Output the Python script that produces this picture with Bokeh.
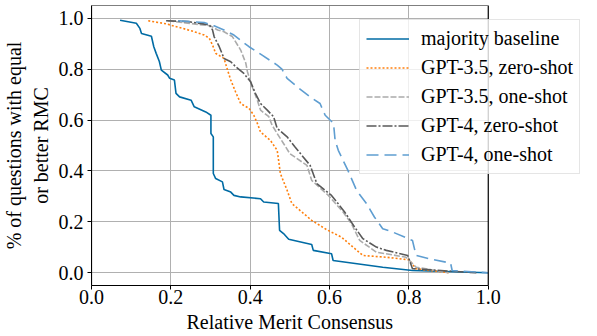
from bokeh.plotting import figure
from bokeh.models import Legend, LegendItem, FixedTicker, Range1d, BoxAnnotation, Title
from bokeh.embed import file_html
from bokeh.resources import INLINE

# ---- data ----
base_x = [0.072, 0.113, 0.122, 0.126, 0.151, 0.157, 0.163, 0.171, 0.176, 0.192, 0.197, 0.209, 0.213, 0.222,
          0.251, 0.259, 0.288, 0.301, 0.301, 0.307, 0.307, 0.313, 0.330, 0.334, 0.351, 0.359, 0.376, 0.426,
          0.434, 0.471, 0.474, 0.484, 0.497, 0.555, 0.559, 0.605, 0.609, 0.734, 0.809, 1.0]
base_y = [0.992, 0.980, 0.960, 0.940, 0.929, 0.888, 0.862, 0.830, 0.796, 0.777, 0.764, 0.757, 0.705, 0.691,
          0.678, 0.652, 0.632, 0.619, 0.547, 0.534, 0.390, 0.370, 0.357, 0.327, 0.317, 0.304, 0.298, 0.291,
          0.278, 0.272, 0.167, 0.154, 0.132, 0.111, 0.088, 0.075, 0.048, 0.022, 0.009, 0.0]

g35z_x = [0.143, 0.188, 0.218, 0.251, 0.284, 0.297, 0.305, 0.313, 0.334, 0.343, 0.351, 0.363, 0.376, 0.397,
          0.409, 0.418, 0.426, 0.451, 0.468, 0.470, 0.476, 0.493, 0.505, 0.555, 0.593, 0.630, 0.659, 0.684,
          0.743, 0.800, 0.818, 0.900]
g35z_y = [0.990, 0.978, 0.965, 0.951, 0.934, 0.921, 0.895, 0.862, 0.842, 0.796, 0.757, 0.711, 0.665, 0.646,
          0.619, 0.587, 0.553, 0.520, 0.481, 0.460, 0.390, 0.324, 0.272, 0.206, 0.169, 0.140, 0.101, 0.068,
          0.061, 0.051, 0.016, 0.0]

g35o_x = [0.193, 0.300, 0.318, 0.334, 0.355, 0.376, 0.389, 0.393, 0.405, 0.418, 0.426, 0.447, 0.455, 0.468,
          0.484, 0.500, 0.543, 0.555, 0.597, 0.634, 0.655, 0.676, 0.718, 0.793, 0.818, 0.900]
g35o_y = [0.990, 0.970, 0.954, 0.947, 0.928, 0.875, 0.823, 0.790, 0.731, 0.678, 0.639, 0.613, 0.580, 0.547,
          0.508, 0.468, 0.422, 0.363, 0.304, 0.239, 0.193, 0.127, 0.081, 0.061, 0.022, 0.0]

g4z_x = [0.188, 0.243, 0.297, 0.305, 0.309, 0.322, 0.334, 0.351, 0.363, 0.384, 0.401, 0.413, 0.426, 0.443,
         0.459, 0.468, 0.493, 0.513, 0.551, 0.568, 0.605, 0.638, 0.663, 0.684, 0.718, 0.743, 0.797, 0.809, 0.970]
g4z_y = [0.990, 0.987, 0.974, 0.954, 0.928, 0.888, 0.842, 0.829, 0.810, 0.783, 0.750, 0.705, 0.665, 0.639,
         0.613, 0.567, 0.534, 0.494, 0.422, 0.350, 0.304, 0.239, 0.180, 0.134, 0.101, 0.088, 0.068, 0.016, 0.0]

g4o_x = [0.218, 0.284, 0.309, 0.334, 0.359, 0.397, 0.430, 0.468, 0.480, 0.493, 0.518, 0.551, 0.576, 0.589,
         0.610, 0.614, 0.622, 0.646, 0.668, 0.693, 0.713, 0.734, 0.759, 0.809, 0.818, 0.851, 0.905, 0.909, 1.0]
g4o_y = [0.990, 0.983, 0.970, 0.954, 0.934, 0.888, 0.855, 0.816, 0.800, 0.764, 0.731, 0.691, 0.665, 0.619,
         0.587, 0.520, 0.481, 0.403, 0.324, 0.272, 0.219, 0.173, 0.160, 0.127, 0.068, 0.055, 0.038, 0.009, 0.0]

tick_values = [0.0, 0.2, 0.4, 0.6, 0.8, 1.0]
tick_labels = ["0.0", "0.2", "0.4", "0.6", "0.8", "1.0"]
series_names = ["majority baseline", "GPT-3.5, zero-shot", "GPT-3.5, one-shot",
                "GPT-4, zero-shot", "GPT-4, one-shot"]
x_label = "Relative Merit Consensus"
y_label = "% of questions with equal\nor better RMC"

FONT = "Liberation Serif"
X_MIN, X_MAX = 0.0, 1.0
# the frame is widened to the right so the legend can hang past the plot box
X_VIEW_END = 1.235

p = figure(width=581, height=334, output_backend="svg", toolbar_location=None,
           x_range=Range1d(X_MIN, X_VIEW_END), y_range=Range1d(-0.05, 1.05),
           min_border_left=85, min_border_right=0, min_border_top=5, min_border_bottom=0)
p.background_fill_color = "white"
p.border_fill_color = "white"
p.outline_line_color = None

styles = [
    dict(color="#006BA4", dash="solid"),
    dict(color="#FF800E", dash="2 2"),
    dict(color="#ABABAB", dash="6 2"),
    dict(color="#595959", dash="10 2 2 2"),
    dict(color="#5F9ED1", dash="12 6"),
]
data = [(base_x, base_y), (g35z_x, g35z_y), (g35o_x, g35o_y), (g4z_x, g4z_y), (g4o_x, g4o_y)]

items = []
for (xs, ys), st, name in zip(data, styles, series_names):
    r = p.line(xs, ys, line_color=st["color"], line_width=1.6, line_dash=st["dash"])
    items.append(LegendItem(label=name, renderers=[r]))

for ax in (p.xaxis[0], p.yaxis[0]):
    ax.ticker = FixedTicker(ticks=tick_values)
    ax.major_label_overrides = {v: l for v, l in zip(tick_values, tick_labels)}
    ax.minor_tick_line_color = None
    ax.major_tick_in = 0
    ax.major_tick_out = 4
    ax.major_tick_line_color = "black"
    ax.axis_line_color = "black"
    ax.major_label_text_font = FONT
    ax.major_label_text_font_size = "20px"
    ax.major_label_text_color = "black"
    ax.axis_label_text_font = FONT
    ax.axis_label_text_font_size = "20px"
    ax.axis_label_text_font_style = "normal"
    ax.axis_label_text_color = "black"

p.xaxis.bounds = (X_MIN, X_MAX)
p.xaxis.major_label_standoff = 0
p.yaxis.axis_label = y_label
p.yaxis.major_label_standoff = 4
p.yaxis.axis_label_standoff = 4

# x axis title, centred under the plot box (0..1), not under the widened frame
xt = Title(text=x_label, align="left", offset=95, standoff=4,
           text_font=FONT, text_font_size="20px", text_font_style="normal", text_color="black")
p.add_layout(xt, "below")

p.grid.grid_line_color = "#b0b0b0"
p.grid.grid_line_width = 1
p.xgrid.ticker = FixedTicker(ticks=tick_values)
p.ygrid.ticker = FixedTicker(ticks=tick_values)

# white mask right of the plot box, then the plot box outline
p.add_layout(BoxAnnotation(left=X_MAX, fill_color="white", fill_alpha=1.0, line_color=None))
p.add_layout(BoxAnnotation(left=X_MIN, right=X_MAX, fill_alpha=0.0, line_color="black",
                           line_width=1.2, line_alpha=1.0))

legend = Legend(items=items, location=(268, 111))
legend.label_text_font = FONT
legend.label_text_font_size = "20px"
legend.label_text_color = "black"
legend.glyph_width = 43
legend.glyph_height = 25
legend.label_height = 25
legend.label_standoff = 12
legend.spacing = 4
legend.padding = 6
legend.margin = 0
legend.background_fill_color = "white"
legend.background_fill_alpha = 0.8
legend.border_line_color = "#cccccc"
legend.border_line_width = 1
p.add_layout(legend)

open("out.html", "w").write(file_html(p, INLINE))
